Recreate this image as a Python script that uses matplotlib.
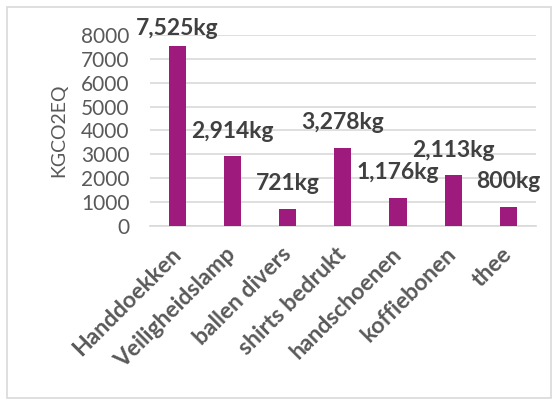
import matplotlib.pyplot as plt
from matplotlib.patches import Rectangle

categories = ["Handdoekken", "Veiligheidslamp", "ballen divers", "shirts bedrukt",
              "handschoenen", "koffiebonen", "thee"]
values = [7525, 2914, 721, 3278, 1176, 2113, 800]
yticks = [0, 1000, 2000, 3000, 4000, 5000, 6000, 7000, 8000]

plt.rcParams["font.family"] = ["Lato", "DejaVu Sans"]
grey = "#595959"

fig = plt.figure(figsize=(5.58, 4.05), dpi=100)
fig.patches.append(Rectangle((7 / 558, 1 - 398 / 405), 544 / 558, 391 / 405,
                             transform=fig.transFigure, fill=False,
                             edgecolor="#d9d9d9", linewidth=1.2))
ax = fig.add_axes([0.269, 0.442, 0.691, 0.472])

x = range(len(categories))
ax.bar(x, values, width=0.31, color="#9e1a7d", zorder=3)
ax.set_xlim(-0.5, len(categories) - 0.5)
ax.set_ylim(0, 8000)
ax.set_yticks(yticks)
ax.set_yticklabels([str(t) for t in yticks], fontsize=15, color=grey)
ax.grid(axis="y", color="#d9d9d9", linewidth=1.2, zorder=0)
for s in ("top", "left", "right"):
    ax.spines[s].set_visible(False)
ax.spines["bottom"].set_color("#d9d9d9")
ax.spines["bottom"].set_linewidth(1.2)
ax.tick_params(axis="y", length=0, pad=15)
ax.set_ylabel("KGCO2EQ", fontsize=14, color=grey, labelpad=10)

ax.set_xticks(list(x))
ax.set_xticklabels(categories, rotation=45, ha="right", va="center",
                   rotation_mode="anchor", fontsize=16.5, fontweight="bold", color=grey)
ax.tick_params(axis="x", length=0, pad=18)

for i, v in enumerate(values):
    off = 13 if v > 7000 else 18
    ax.annotate(f"{v:,}kg", (i, v), xytext=(0, off), textcoords="offset points",
                ha="center", va="center", fontsize=16.5, fontweight="bold",
                color="#404040", annotation_clip=False, zorder=4)

fig.savefig("out.png", dpi=100)
